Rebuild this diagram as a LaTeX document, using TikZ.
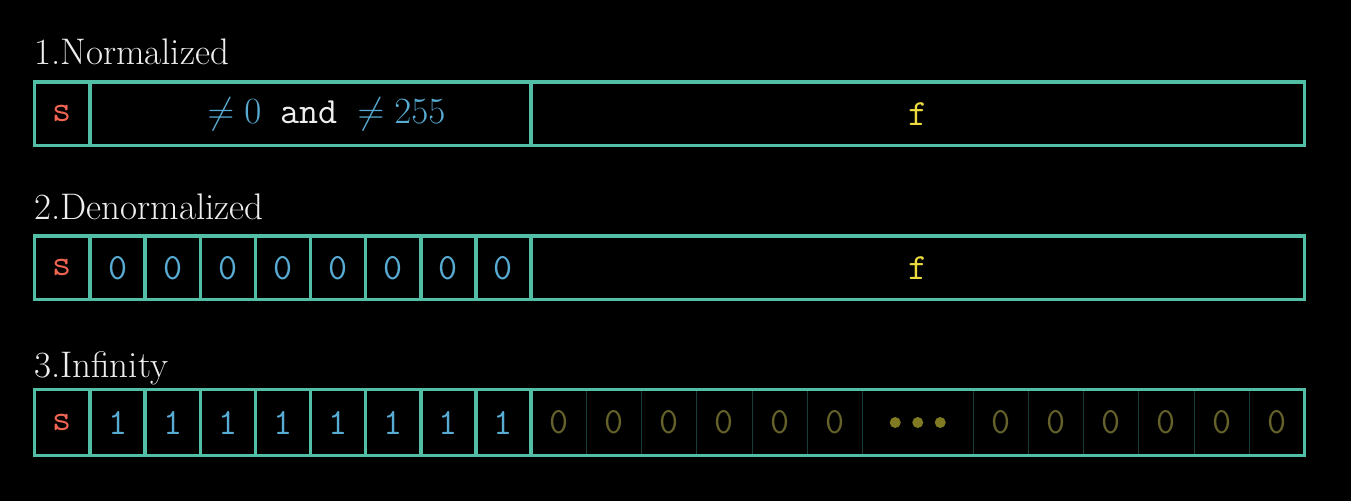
\RequirePackage{fix-cm}
\documentclass[tikz,border=0pt]{standalone}
\usepackage{fontspec}
\definecolor{tealc}{RGB}{83,190,166}
\definecolor{redc}{RGB}{240,100,82}
\definecolor{bluec}{RGB}{88,172,212}
\definecolor{yellowc}{RGB}{236,218,62}
\definecolor{dimy}{RGB}{100,98,42}
\definecolor{dotcol}{RGB}{128,122,34}
\definecolor{dimline}{RGB}{24,60,56}
\definecolor{titlec}{RGB}{238,238,238}
\begin{document}
\begin{tikzpicture}[x=1pt,y=-1pt,
  font=\fontsize{37}{44}\selectfont,
  title/.style={anchor=base west, inner sep=0pt, text=titlec},
  cell/.style={draw=tealc, line width=3.5pt, inner sep=0pt, minimum height=63.5pt},
  dimcell/.style={draw=dimline, line width=1pt, inner sep=0pt, minimum height=66pt, text=dimy, font=\fontsize{37}{44}\selectfont\ttfamily},
  frame/.style={draw=tealc, line width=3.5pt, inner sep=0pt},
  signt/.style={text=redc, font=\fontsize{37}{44}\selectfont\ttfamily},
  expt/.style={text=bluec, font=\fontsize{37}{44}\selectfont\ttfamily},
  fract/.style={text=yellowc, font=\fontsize{37}{44}\selectfont\ttfamily},
  dotc/.style={fill=dotcol}
]
\fill[black] (0,0) rectangle (1351,501);
\useasboundingbox (0,0) rectangle (1351,501);

% ---------- 1. Normalized ----------
\node[title] (t1) at (34,64) {1.Normalized};
\node[cell, signt, minimum width=55.5pt] (s1) at (62.25,113.75) {s};
\node[cell, minimum width=441pt, text=bluec] (e1) at (310.5,113.75)
  {\hspace*{32pt}$\neq 0$\hspace{0.5em}{\ttfamily\color{titlec}and}\hspace{0.55em}$\neq 255$};
\node[cell, fract, minimum width=773.5pt] (f1) at (917.75,113.75) {f};

% ---------- 2. Denormalized ----------
\node[title] (t2) at (34,219) {2.Denormalized};
\node[cell, signt, minimum width=55.5pt] (s2) at (62.25,267.75) {s};
\foreach \k in {1,...,8}{
  \node[cell, expt, minimum width=55.125pt] (e2-\k) at ({90+55.125*(\k-0.5)},267.75) {0};
}
\node[cell, fract, minimum width=773.5pt] (f2) at (917.75,267.75) {f};

% ---------- 3. Infinity ----------
\node[title] (t3) at (34,377) {3.Infinity};
\node[cell, signt, minimum width=55.5pt, minimum height=66pt] (s3) at (62.25,422.5) {s};
\foreach \k in {1,...,8}{
  \node[cell, expt, minimum width=55.125pt, minimum height=66pt] (e3-\k) at ({90+55.125*(\k-0.5)},422.5) {1};
}
\foreach \k in {1,...,6}{
  \node[dimcell, minimum width=55.25pt] (fa-\k) at ({531+55.25*(\k-0.5)},422.5) {0};
}
\node[dimcell, minimum width=110.5pt] (fd) at (917.75,422.5) {};
\foreach \k in {1,...,6}{
  \node[dimcell, minimum width=55.25pt] (fb-\k) at ({973+55.25*(\k-0.5)},422.5) {0};
}
\fill[dotc] ([xshift=-22.5pt]fd.center) circle (5.5pt);
\fill[dotc] (fd.center) circle (5.5pt);
\fill[dotc] ([xshift=22.5pt]fd.center) circle (5.5pt);
\node[frame, minimum width=773.5pt, minimum height=66pt] (f3) at (917.75,422.5) {};
\end{tikzpicture}
\end{document}
